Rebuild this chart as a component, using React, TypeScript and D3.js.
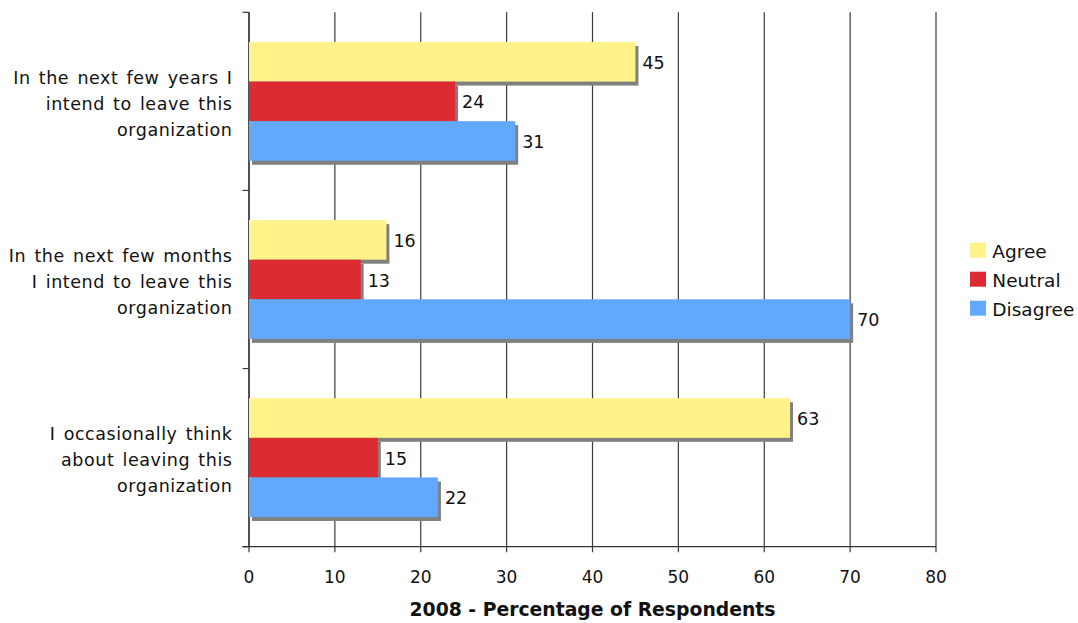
import React from "react";
import * as d3 from "d3";

// Survey statements (top to bottom) and response shares in percent
const categories: string[][] = [
  ["In the next few years I", "intend to leave this", "organization"],
  ["In the next few months", "I intend to leave this", "organization"],
  ["I occasionally think", "about leaving this", "organization"],
];
const seriesNames = ["Agree", "Neutral", "Disagree"];
const agree = [45, 16, 63];
const neutral = [24, 13, 15];
const disagree = [31, 70, 22];
const xTicks = [0, 10, 20, 30, 40, 50, 60, 70, 80];
const axisTitle = "2008 - Percentage of Respondents";

const colors = ["#FFF38A", "#DD2B33", "#62A8FE"];
const font = "'DejaVu Sans', Verdana, sans-serif";
const textColor = "#111";

export default function App() {
  const width = 1078;
  const height = 623;
  const left = 249;
  const right = 936;
  const top = 12.3;
  const bottom = 546.7;

  const values = [agree, neutral, disagree];

  const x = d3.scaleLinear().domain([0, 80]).range([left, right]);
  const yOuter = d3
    .scaleBand<number>()
    .domain(d3.range(categories.length))
    .range([top, bottom])
    .paddingInner(1 / 3)
    .paddingOuter(1 / 6);
  const yInner = d3
    .scaleBand<number>()
    .domain(d3.range(seriesNames.length))
    .range([0, yOuter.bandwidth()]);

  const step = yOuter.step();
  const bandEdges = d3.range(categories.length + 1).map((i) => top + i * step);

  const bars: React.ReactNode[] = [];
  categories.forEach((_, ci) => {
    seriesNames.forEach((_s, si) => {
      const v = values[si][ci];
      const y0 = (yOuter(ci) ?? 0) + (yInner(si) ?? 0);
      const h = yInner.bandwidth();
      const w = x(v) - x(0);
      bars.push(
        <g key={`b-${ci}-${si}`}>
          <rect x={x(0) + 3} y={y0 + 4} width={w} height={h} fill="#808080" />
          <rect x={x(0)} y={y0} width={w} height={h} fill={colors[si]} />
        </g>
      );
    });
  });

  const labels: React.ReactNode[] = [];
  categories.forEach((_, ci) => {
    seriesNames.forEach((_s, si) => {
      const v = values[si][ci];
      const y0 = (yOuter(ci) ?? 0) + (yInner(si) ?? 0);
      const h = yInner.bandwidth();
      labels.push(
        <text
          key={`l-${ci}-${si}`}
          x={x(v) + 7}
          y={y0 + h / 2 + 7}
          fontSize={17.5}
          fill={textColor}
        >
          {v}
        </text>
      );
    });
  });

  return (
    <svg
      width={width}
      height={height}
      style={{ position: "absolute", left: 0, top: 0, background: "#fff" }}
      fontFamily={font}
    >
      {/* vertical grid lines */}
      {xTicks.map((t) => (
        <line
          key={`g-${t}`}
          x1={x(t)}
          x2={x(t)}
          y1={top}
          y2={bottom + 5.5}
          stroke="#3a3a3a"
          strokeWidth={1.2}
        />
      ))}
      {/* category axis ticks */}
      {bandEdges.map((yy, i) => (
        <line
          key={`yt-${i}`}
          x1={left - 6.5}
          x2={left}
          y1={yy}
          y2={yy}
          stroke="#3a3a3a"
          strokeWidth={1.2}
        />
      ))}
      {/* axes */}
      <line x1={left} x2={left} y1={top} y2={bottom} stroke="#333" strokeWidth={1.3} />
      <line x1={left - 6.5} x2={right} y1={bottom} y2={bottom} stroke="#333" strokeWidth={1.3} />

      {bars}
      {labels}

      {/* x tick labels */}
      {xTicks.map((t) => (
        <text
          key={`xt-${t}`}
          x={x(t)}
          y={583.3}
          textAnchor="middle"
          fontSize={17}
          fill={textColor}
        >
          {t}
        </text>
      ))}

      {/* category labels */}
      {categories.map((lines, ci) => {
        const c = (yOuter(ci) ?? 0) + yOuter.bandwidth() / 2;
        return (
          <text
            key={`c-${ci}`}
            textAnchor="end"
            fontSize={17.5}
            fill={textColor}
            letterSpacing={0.55}
            wordSpacing={2.1}
          >
            {lines.map((ln, li) => (
              <tspan key={li} x={232.5} y={c + 8.5 + (li - 1) * 26}>
                {ln}
              </tspan>
            ))}
          </text>
        );
      })}

      {/* axis title */}
      <text
        x={(left + right) / 2}
        y={615.7}
        textAnchor="middle"
        fontSize={18.8}
        fontWeight="bold"
        fill={textColor}
      >
        {axisTitle}
      </text>

      {/* legend */}
      {seriesNames.map((name, i) => {
        const yy = 242.7 + i * 29;
        return (
          <g key={`lg-${i}`}>
            <rect x={970} y={yy} width={16} height={15} fill={colors[i]} />
            <text x={992.3} y={yy + 14.8} fontSize={18.5} fill={textColor}>
              {name}
            </text>
          </g>
        );
      })}
    </svg>
  );
}
